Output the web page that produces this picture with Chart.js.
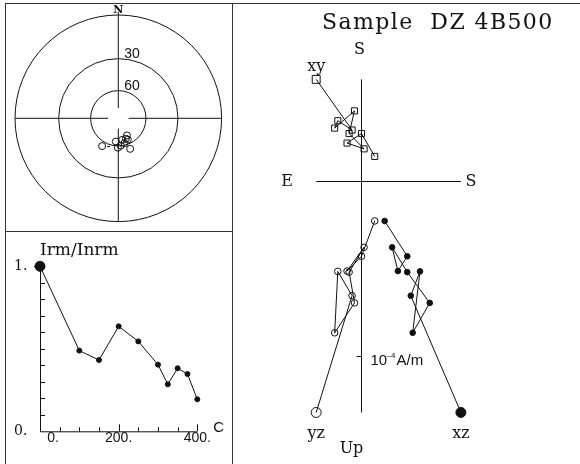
<!DOCTYPE html>
<html>
<head>
<meta charset="utf-8">
<script src="https://cdn.jsdelivr.net/npm/chart.js@4.4.1/dist/chart.umd.min.js"></script>
<style>
  html, body { margin: 0; padding: 0; background: #fff; }
  #page { position: relative; width: 580px; height: 464px; overflow: hidden; background: #fff; }
  #page canvas { position: absolute; }
  .rule { position: absolute; background: #333; }
</style>
</head>
<body>
<div id="page">
  <canvas id="stereo" width="232" height="232" style="left:0;top:0"></canvas>
  <canvas id="decay" width="232" height="232" style="left:0;top:232px"></canvas>
  <canvas id="zij" width="348" height="464" style="left:232px;top:0"></canvas>
  <div class="rule" style="left:5px;top:3px;width:575px;height:1px"></div>
  <div class="rule" style="left:5px;top:3px;width:1px;height:461px"></div>
  <div class="rule" style="left:232px;top:3px;width:1px;height:461px"></div>
  <div class="rule" style="left:5px;top:231px;width:227px;height:1px"></div>
</div>
<script>
// demagnetisation steps (C) and remaining intensity ratio
const stepTemps = [0, 100, 150, 200, 250, 300, 325, 350, 375, 400];
const intensityRatio = [1.0, 0.489, 0.432, 0.636, 0.545, 0.404, 0.285, 0.382, 0.347, 0.194];

// vector components per step, in 10^-4 A/m, as plotted in the Zijderveld panel
const compEW = [-0.256, -0.050, -0.132, -0.150, -0.036, -0.067, 0.019, -0.079, 0.004, 0.080];
const compNS = [0.575, 0.287, 0.340, 0.298, 0.396, 0.267, 0.180, 0.213, 0.267, 0.137];
const compUp = [-1.319, -0.655, -0.517, -0.866, -0.696, -0.521, -0.380, -0.515, -0.431, -0.230];

// axis / tick text
const stereoRings = [0, 30, 60];
const stereoRingLabels = ['', '30', '60'];
const tempTicks = [0, 200, 400];
const tempTickLabels = ['0.', '200.', '400.'];
const ratioTicks = [0, 1];
const ratioTickLabels = ['0.', '1.'];
const sampleTitle = 'Sample  DZ 4B500';

const INK = '#111';
const SERIF = '"DejaVu Serif", serif';
const SANS = '"Liberation Sans", Arial, sans-serif';

const baseOptions = {
  responsive: false,
  animation: false,
  events: [],
  plugins: { legend: { display: false }, tooltip: { enabled: false } }
};

// ---------- stereonet (directions from the components) ----------
const stereoPoints = compEW.map((ew, i) => {
  const east = -ew, north = -compNS[i];
  const h = Math.hypot(east, north);
  const inc = Math.atan2(Math.abs(compUp[i]), h);
  const r = Math.tan((Math.PI / 2 - inc) / 2);
  return { x: r * east / h, y: r * north / h };
});

const stereoGrid = {
  id: 'stereoGrid',
  beforeDatasetsDraw(chart) {
    const { ctx, scales: { x, y } } = chart;
    const cx = x.getPixelForValue(0), cy = y.getPixelForValue(0);
    const unit = x.getPixelForValue(1) - cx;
    ctx.save();
    ctx.strokeStyle = INK;
    ctx.lineWidth = 1;
    stereoRings.forEach((inc, i) => {
      const r = Math.tan((90 - inc) / 2 * Math.PI / 180) * unit;
      ctx.beginPath();
      ctx.arc(cx, cy, r, 0, Math.PI * 2);
      ctx.stroke();
      if (stereoRingLabels[i]) {
        ctx.fillStyle = INK;
        ctx.font = '14px ' + SANS;
        ctx.textAlign = 'left';
        ctx.textBaseline = 'alphabetic';
        ctx.fillText(stereoRingLabels[i], cx + 6, cy - r - 1);
      }
    });
    const gap = 0.1 * unit;
    ctx.beginPath();
    ctx.moveTo(cx - unit, cy); ctx.lineTo(cx - gap, cy);
    ctx.moveTo(cx + gap, cy); ctx.lineTo(cx + unit, cy);
    ctx.moveTo(cx, cy - unit - 3); ctx.lineTo(cx, cy - gap);
    ctx.moveTo(cx, cy + gap); ctx.lineTo(cx, cy + unit);
    ctx.stroke();
    ctx.fillStyle = INK;
    ctx.font = 'bold 11px ' + SERIF;
    ctx.textAlign = 'center';
    ctx.textBaseline = 'alphabetic';
    ctx.fillText('N', cx, cy - unit - 2);
    // end marker beside the last step
    const last = stereoPoints[stereoPoints.length - 1];
    const lx = x.getPixelForValue(last.x), ly = y.getPixelForValue(last.y);
    ctx.beginPath();
    ctx.moveTo(lx + 5, ly + 0.5); ctx.lineTo(lx + 8, ly + 0.5);
    ctx.stroke();
    ctx.restore();
  }
};

new Chart(document.getElementById('stereo'), {
  type: 'scatter',
  data: {
    datasets: [{
      data: stereoPoints,
      pointStyle: 'circle',
      pointRadius: 3.5,
      borderWidth: 1,
      borderColor: INK,
      backgroundColor: 'rgba(0,0,0,0)',
      clip: false
    }]
  },
  options: {
    ...baseOptions,
    layout: { padding: { left: 15, top: 15, right: 10.4, bottom: 10.4 } },
    scales: {
      x: { type: 'linear', min: -1, max: 1, display: false },
      y: { type: 'linear', min: -1, max: 1, display: false }
    }
  },
  plugins: [stereoGrid]
});

// ---------- intensity decay ----------
const decayAxes = {
  id: 'decayAxes',
  beforeDatasetsDraw(chart) {
    const { ctx, scales: { x, y } } = chart;
    const x0 = x.getPixelForValue(0), y0 = y.getPixelForValue(0);
    const x1 = x.getPixelForValue(400), y1 = y.getPixelForValue(1);
    ctx.save();
    ctx.strokeStyle = INK;
    ctx.lineWidth = 1;
    ctx.beginPath();
    ctx.moveTo(x0 + 0.5, y1); ctx.lineTo(x0 + 0.5, y0 + 0.5); ctx.lineTo(x1, y0 + 0.5);
    for (let k = 1; k <= 10; k++) {
      const py = Math.round(y.getPixelForValue(k / 10)) + 0.5;
      ctx.moveTo(x0, py); ctx.lineTo(x0 + 5, py);
    }
    const ty = Math.round(y1) + 0.5;
    ctx.moveTo(x0 - 6, ty); ctx.lineTo(x0, ty);
    for (let t = 50; t <= 400; t += 50) {
      const px = Math.round(x.getPixelForValue(t)) + 0.5;
      const len = t % 200 === 0 ? 7 : 4;
      ctx.moveTo(px, y0); ctx.lineTo(px, y0 - len);
    }
    ctx.stroke();

    ctx.fillStyle = INK;
    ctx.font = '14px ' + SANS;
    ctx.textAlign = 'center';
    ctx.textBaseline = 'alphabetic';
    tempTicks.forEach((t, i) => {
      const shift = t === 0 ? 13 : 0;
      ctx.fillText(tempTickLabels[i], x.getPixelForValue(t) + shift, y0 + 11);
    });
    ctx.textAlign = 'left';
    ctx.font = '15px ' + SANS;
    ctx.fillText('C', x1 + 16, y0 + 1);

    ctx.font = '14px ' + SERIF;
    ctx.textAlign = 'left';
    ctx.textBaseline = 'middle';
    ratioTicks.forEach((v, i) => {
      ctx.fillText(ratioTickLabels[i], 14, y.getPixelForValue(v));
    });
    ctx.font = '17px ' + SERIF;
    ctx.textBaseline = 'alphabetic';
    ctx.fillText('Irm/Inrm', x0, y1 - 11);
    ctx.restore();
  }
};

new Chart(document.getElementById('decay'), {
  type: 'scatter',
  data: {
    datasets: [{
      data: stepTemps.map((t, i) => ({ x: t, y: intensityRatio[i] })),
      showLine: true,
      borderColor: INK,
      borderWidth: 1,
      backgroundColor: INK,
      pointStyle: 'circle',
      pointRadius: c => (c.dataIndex === 0 ? 5 : 2.5),
      clip: false
    }]
  },
  options: {
    ...baseOptions,
    layout: { padding: { left: 40, top: 34.3, right: 34.7, bottom: 32.7 } },
    scales: {
      x: { type: 'linear', min: 0, max: 400, display: false },
      y: { type: 'linear', min: 0, max: 1, display: false }
    }
  },
  plugins: [decayAxes]
});

// ---------- Zijderveld diagram ----------
const zijPx = 181;                 // pixels per 10^-4 A/m
const zijOrigin = { x: 127, y: 179 };
const zijW = 348, zijH = 464;

const xyPoints = compEW.map((v, i) => ({ x: v, y: compNS[i] }));
const yzPoints = compEW.map((v, i) => ({ x: v, y: compUp[i] }));
const xzPoints = compNS.map((v, i) => ({ x: v, y: compUp[i] }));

const zijAxes = {
  id: 'zijAxes',
  beforeDatasetsDraw(chart) {
    const { ctx, scales: { x, y } } = chart;
    const horiz = compEW.concat(compNS);
    const ox = Math.round(x.getPixelForValue(0)) + 0.5;
    const oy = Math.round(y.getPixelForValue(0)) + 0.5;
    const left = x.getPixelForValue(Math.min(...horiz));
    const right = x.getPixelForValue(Math.max(...horiz));
    const top = y.getPixelForValue(Math.max(...compNS));
    const bottom = y.getPixelForValue(Math.min(...compUp));
    ctx.save();
    ctx.strokeStyle = INK;
    ctx.lineWidth = 1;
    ctx.beginPath();
    ctx.moveTo(left, oy); ctx.lineTo(right, oy);
    ctx.moveTo(ox, top); ctx.lineTo(ox, bottom);
    const unitY = Math.round(y.getPixelForValue(-1)) + 0.5;
    ctx.moveTo(ox - 5, unitY); ctx.lineTo(ox, unitY);
    ctx.stroke();

    ctx.fillStyle = INK;
    ctx.font = '15px ' + SANS;
    ctx.textAlign = 'left';
    ctx.textBaseline = 'alphabetic';
    ctx.fillText('10', ox + 9, unitY + 8);
    ctx.font = '8px ' + SANS;
    ctx.fillText('\u20134', ox + 25, unitY + 1);
    ctx.font = '15px ' + SANS;
    ctx.fillText('A/m', ox + 35, unitY + 8);

    ctx.font = '16px ' + SERIF;
    ctx.textAlign = 'center';
    ctx.textBaseline = 'middle';
    ctx.fillText('S', ox - 2, top - 30);
    ctx.fillText('Up', ox - 10, bottom + 36);
    ctx.fillText('E', left - 29, oy);
    ctx.fillText('S', right + 10, oy);

    const a = xyPoints[0], b = yzPoints[0], c = xzPoints[0];
    ctx.fillText('xy', x.getPixelForValue(a.x), y.getPixelForValue(a.y) - 13);
    ctx.fillText('yz', x.getPixelForValue(b.x), y.getPixelForValue(b.y) + 21);
    ctx.fillText('xz', x.getPixelForValue(c.x), y.getPixelForValue(c.y) + 21);

    ctx.font = '22px ' + SERIF;
    ctx.textAlign = 'left';
    ctx.textBaseline = 'alphabetic';
    ctx.letterSpacing = '1.4px';
    ctx.fillText(sampleTitle, 90, 29);
    ctx.restore();
  }
};

const zijSet = (data, style, fill, big, small) => ({
  data,
  showLine: true,
  borderColor: INK,
  borderWidth: 1,
  backgroundColor: fill,
  pointStyle: style,
  pointRadius: c => (c.dataIndex === 0 ? big : small),
  clip: false
});

new Chart(document.getElementById('zij'), {
  type: 'scatter',
  data: {
    datasets: [
      zijSet(xyPoints, 'rect', 'rgba(0,0,0,0)', 5.6, 4.3),
      zijSet(yzPoints, 'circle', 'rgba(0,0,0,0)', 5, 3.3),
      zijSet(xzPoints, 'circle', INK, 5, 2.8)
    ]
  },
  options: {
    ...baseOptions,
    layout: { padding: 0 },
    scales: {
      x: { type: 'linear', display: false,
           min: -zijOrigin.x / zijPx, max: (zijW - zijOrigin.x) / zijPx },
      y: { type: 'linear', display: false,
           min: -(zijH - zijOrigin.y) / zijPx, max: zijOrigin.y / zijPx }
    }
  },
  plugins: [zijAxes]
});
</script>
</body>
</html>
